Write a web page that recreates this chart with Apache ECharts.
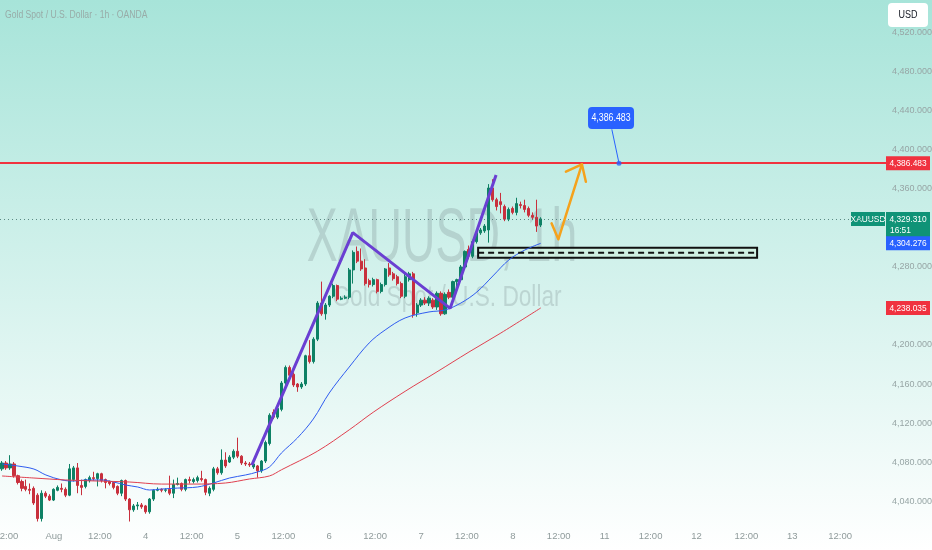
<!DOCTYPE html>
<html><head><meta charset="utf-8">
<script src="https://cdn.jsdelivr.net/npm/echarts@6/dist/echarts.min.js"></script>
<style>html,body{margin:0;padding:0;overflow:hidden}#c{width:932px;height:550px}</style>
</head><body><div id="c"></div>
<script>
// ---------- DATA ----------
const openP = [4073,4079,4074,4078,4066,4060,4055,4052,4053,4046,
4022,4048,4045,4041,4051,4053,4052,4046,4062,4074,
4056,4055,4061,4064,4063,4068,4062,4060,4059,4055,
4048,4061,4042,4031,4035,4036,4035,4029,4042,4051,
4052,4051,4052,4048,4057,4058,4052,4062,4060,4061,
4063,4062,4048,4052,4073,4069,4082,4080,4085,4091,
4086,4079,4078,4075,4076,4071,4081,4099,4131,4126,
4134,4161,4177,4170,4160,4157,4160,4189,4183,4206,
4243,4232,4241,4250,4261,4247,4248,4249,4277,4296,
4286,4279,4266,4262,4267,4255,4262,4279,4273,4270,
4263,4250,4267,4273,4233,4241,4246,4243,4246,4239,
4253,4232,4254,4249,4265,4267,4280,4298,4291,4306,
4315,4317,4318,4361,4349,4347,4342,4329,4340,4336,
4344,4343,4340,4333,4331,4323];
const closeP = [4079,4074,4078,4066,4059,4053,4052,4051,4038,4022,
4048,4045,4041,4052,4054,4052,4046,4073,4074,4056,
4054,4062,4064,4063,4068,4061,4059,4058,4054,4048,
4061,4042,4031,4035,4036,4034,4029,4042,4051,4052,
4051,4051.5,4048,4057,4058,4052,4062,4061,4062,4064,
4062,4049,4053,4073,4069,4082,4076,4085,4091,4086,
4079,4078,4077,4078,4071,4081,4100,4128,4126,4135,
4161,4177,4169,4159,4157,4160,4189,4183,4206,4243,
4232,4241,4250,4261,4247,4248,4249,4277,4295,4286,
4278,4263,4262,4267,4255,4262,4278,4272,4268,4263,
4250,4270,4273,4231,4241,4246,4243,4248,4239,4253,
4232,4252,4249,4265,4267,4280,4296,4291,4306,4315,
4318,4322,4361,4349,4342,4344,4329,4339,4336,4345,
4343,4339,4333,4331,4322,4329.31];
const lowP = [4071,4072,4072,4064,4057,4050,4050,4047,4036,4019,
4019,4043,4040,4040,4050,4049,4044,4045,4060,4048,
4046,4053,4059,4061,4055,4059,4053,4056,4052,4046,
4045,4040,4019,4029,4031,4032,4027,4027,4040,4050,
4049,4049,4046,4043,4056,4050,4050,4058,4058,4059,
4060,4046,4045,4050,4067,4067,4074,4079,4083,4084,
4077,4076,4075,4073,4064,4069,4079,4097,4124,4124,
4132,4159,4167,4157,4152,4155,4158,4181,4181,4204,
4230,4226,4239,4248,4245,4246,4247,4247,4263,4284,
4276,4261,4259,4260,4253,4253,4260,4270,4266,4261,
4248,4248,4265,4228,4229,4239,4241,4240,4237,4236,
4230,4231,4247,4247,4260,4265,4278,4288,4289,4304,
4313,4315,4305,4347,4338,4335,4327,4327,4334,4333,
4340,4336,4331,4329,4316,4321];
const highP = [4081,4081,4087,4080,4067,4062,4062,4058,4055,4048,
4051,4050,4047,4053,4056,4058,4054,4078,4076,4079,
4062,4063,4066,4070,4069,4069,4063,4061,4060,4056,
4062,4062,4043,4037,4039,4038,4036,4043,4052,4054,
4053,4053,4066,4062,4064,4059,4063,4065,4064,4066,
4071,4063,4055,4075,4075,4093,4090,4087,4093,4105,
4087,4081,4080,4080,4077,4082,4102,4130,4134,4137,
4163,4179,4179,4172,4161,4162,4190,4205,4208,4245,
4265,4243,4251,4263,4262,4250,4251,4279,4297,4301,
4299,4288,4268,4269,4268,4264,4279,4284,4275,4272,
4265,4273,4275,4275,4243,4248,4249,4250,4248,4255,
4255,4254,4257,4266,4268,4282,4297,4302,4308,4317,
4320,4324,4365,4370,4351,4356,4344,4341,4342,4351,
4347,4349,4342,4336,4349,4331];

// moving averages read at sample bars: [bar, price]
const maFast = [[0,4078.0],[4,4075.9],[8,4072.8],[11,4066.7],[15,4061.6],[18,4060.5],[21,4061.6],[25,4061.6],[28,4059.5],[31,4056.4],[34,4054.4],[37,4051.3],[40,4052.3],[44,4053.3],[49,4054.4],[53,4058.5],[57,4063.6],[61,4066.7],[64,4069.8],[67,4074.9],[70,4089.2],[74,4104.6],[78,4124.1],[82,4150.8],[87,4177.4],[92,4202.1],[96,4215.4],[101,4227.7],[107,4233.9],[111,4235.9],[115,4243.1],[119,4254.4],[123,4270.8],[127,4287.2],[131,4297.4],[135,4304.276]];
const maSlow = [[0,4065.7],[8,4063.6],[16,4061.6],[24,4060.5],[32,4059.5],[40,4057.4],[48,4057.4],[56,4058.5],[62,4062.6],[67,4065.7],[70,4072.0],[79,4091.0],[87,4113.0],[93,4131.0],[101,4152.5],[109,4172.5],[117,4192.8],[125,4212.3],[135,4238.035]];

// time axis ticks (bar position, text)
const timeTickIdx = [1.75,13,24.5,36,47.5,59,70.5,82,93.5,105,116.5,128,139.5,151,162.5,174,186.5,198,210];
const timeTickLabels = ['2:00','Aug','12:00','4','12:00','5','12:00','6','12:00','7','12:00','8','12:00','11','12:00','12','12:00','13','12:00'];
// price axis tick labels that are visible
const priceTicks = [4040,4080,4120,4160,4200,4280,4360,4400,4440,4480,4520];

// levels and drawings
const resistance = 4386.483;
const lastPrice = 4329.31;
const lastTime = '16:51';
const maFastLast = 4304.276;
const maSlowLast = 4238.035;
const patternPts = [[62.6,4076.9],[87.9,4315.2],[112.3,4237.6],[123.8,4374.4]];
const arrowPath = [[137.7,4324.8],[139.4,4308.4],[145.3,4385.3]];
const arrowHead = [[141.3,4377.7],[145.3,4385.3],[146.3,4367.5]];
const zoneX = [119.3,189.2];
const zoneY = [4289.5,4299.8];
const calloutDot = [154.6,4386.483];
const calloutLineEnd = [152.8,4421.2];
const calloutBox = [152.6,4432.8];

// ---------- CHART ----------
const FONT = '"Liberation Sans",Arial,sans-serif';
const nSlots = 222;
const cats = Array.from({length:nSlots},(_,i)=>String(i));
const candles = openP.map((o,i)=>[o,closeP[i],lowP[i],highP[i]]);
const UP='#0e8165', DOWN='#c8303d';
function fmt(v){return Number(v).toLocaleString('en-US',{minimumFractionDigits:3,maximumFractionDigits:3});}
const zoneMid=(zoneY[0]+zoneY[1])/2;

const chart = echarts.init(document.getElementById('c'),null,{renderer:'canvas'});
chart.setOption({
  animation:false,
  backgroundColor:{type:'linear',x:0,y:0,x2:0,y2:1,colorStops:[{offset:0,color:'#a7e4d9'},{offset:1,color:'#ffffff'}]},
  grid:{left:0,right:46,top:0,bottom:28,containLabel:false,outerBoundsMode:'none'},
  xAxis:[
    {type:'category',data:cats,boundaryGap:true,axisLine:{show:false},axisTick:{show:false},axisLabel:{show:false},splitLine:{show:false}},
    {type:'value',min:-0.5,max:nSlots-0.5,position:'bottom',axisLine:{show:false},axisTick:{show:false},splitLine:{show:false},
     axisLabel:{customValues:timeTickIdx,formatter:function(v){let k=-1,b=1e9;timeTickIdx.forEach((t,i)=>{if(Math.abs(t-v)<b){b=Math.abs(t-v);k=i;}});return b<0.01?timeTickLabels[k]:'';},
       color:'#8f9b9b',fontSize:9.5,fontFamily:FONT,margin:9}}
  ],
  yAxis:{type:'value',position:'right',min:4018.5,max:4553.8,scale:true,axisLine:{show:false},axisTick:{show:false},splitLine:{show:false},
    axisLabel:{customValues:priceTicks,formatter:fmt,color:'#97a5a5',fontSize:9,fontFamily:FONT,margin:6}},
  series:[
    {type:'candlestick',xAxisIndex:0,yAxisIndex:0,data:candles,barWidth:2.6,z:3,
     itemStyle:{color:UP,color0:DOWN,borderColor:UP,borderColor0:DOWN,borderWidth:1},
     markLine:{silent:true,symbol:['none','none'],animation:false,label:{show:false},
       data:[
         {yAxis:resistance,lineStyle:{color:'#f0323f',width:2,type:'solid'}},
         {yAxis:lastPrice,lineStyle:{color:'#3f6f69',width:1,type:[1,3],opacity:0.8}}
       ]}},
    {type:'line',xAxisIndex:1,yAxisIndex:0,data:maFast,showSymbol:false,smooth:0.35,lineStyle:{color:'#2f5cf0',width:1},z:4},
    {type:'line',xAxisIndex:1,yAxisIndex:0,data:maSlow,showSymbol:false,smooth:0.35,lineStyle:{color:'#e0404f',width:1},z:4},
    {type:'line',xAxisIndex:1,yAxisIndex:0,data:[[zoneX[0],zoneMid],[zoneX[1],zoneMid]],showSymbol:false,
     lineStyle:{color:'#111',width:2,type:[6,4]},z:6,
     markArea:{silent:true,itemStyle:{color:'rgba(208,240,224,0.8)',borderColor:'#111',borderWidth:2},
       data:[[{coord:[zoneX[0],zoneY[1]]},{coord:[zoneX[1],zoneY[0]]}]]}},
    {type:'line',xAxisIndex:1,yAxisIndex:0,data:patternPts,showSymbol:false,lineStyle:{color:'#6a3fd2',width:3},z:7},
    {type:'line',xAxisIndex:1,yAxisIndex:0,data:arrowPath,showSymbol:false,lineStyle:{color:'#f5a21c',width:2.5,cap:'round',join:'round'},z:7},
    {type:'line',xAxisIndex:1,yAxisIndex:0,data:arrowHead,showSymbol:false,lineStyle:{color:'#f5a21c',width:2.5,cap:'round',join:'round'},z:7},
    {type:'line',xAxisIndex:1,yAxisIndex:0,data:[calloutDot,calloutLineEnd],showSymbol:false,lineStyle:{color:'#2962ff',width:1},z:7},
    {type:'scatter',xAxisIndex:1,yAxisIndex:0,data:[calloutDot],symbolSize:5,itemStyle:{color:'#2962ff'},z:8}
  ]
});

// annotations anchored through the chart's own scales
function px(x,y){return chart.convertToPixel({xAxisIndex:1,yAxisIndex:0},[x,y]);}
const axisX = px(nSlots-0.5,lastPrice)[0];
function tagText(x,y,text,align){
  return {type:'text',x:x,y:y,scaleX:0.88,style:{text:text,fill:'#fff',font:'9.5px '+FONT,align:align||'center',verticalAlign:'middle'}};
}
function tag(price,text,color){
  const y=px(0,price)[1];
  return {type:'group',z:50,children:[
    {type:'rect',shape:{x:axisX,y:y-7,width:44,height:14},style:{fill:color}},
    tagText(axisX+22,y,text)
  ]};
}
const yLast=px(0,lastPrice)[1];
const box=px(calloutBox[0],calloutBox[1]);
chart.setOption({graphic:[
  {type:'text',x:442,y:240,scaleX:0.61,z:-10,silent:true,style:{text:'XAUUSD, 1h',font:'76px '+FONT,fill:'rgba(95,110,112,0.22)',align:'center',verticalAlign:'middle'}},
  {type:'text',x:447,y:298,scaleX:0.755,z:-10,silent:true,style:{text:'Gold Spot / U.S. Dollar',font:'30px '+FONT,fill:'rgba(95,110,112,0.22)',align:'center',verticalAlign:'middle'}},
  {type:'text',x:5,y:15,z:50,scaleX:0.86,style:{text:'Gold Spot / U.S. Dollar \u00b7 1h \u00b7 OANDA',font:'10px '+FONT,fill:'#98aca8',align:'left',verticalAlign:'middle'}},
  {type:'group',z:60,children:[
    {type:'rect',shape:{x:888,y:3,width:40,height:24,r:4},style:{fill:'#ffffff'}},
    {type:'text',x:908,y:15,scaleX:0.9,style:{text:'USD',font:'10px '+FONT,fill:'#131722',align:'center',verticalAlign:'middle'}}
  ]},
  tag(resistance,fmt(resistance),'#f0323f'),
  {type:'group',z:50,children:[
    {type:'rect',shape:{x:axisX,y:yLast-7,width:44,height:25},style:{fill:'#0f9377'}},
    tagText(axisX+22,yLast,fmt(lastPrice)),
    tagText(axisX+4,yLast+11,lastTime,'left'),
    {type:'rect',shape:{x:axisX-35,y:yLast-7,width:34,height:14},style:{fill:'#0f9377'}},
    tagText(axisX-18,yLast,'XAUUSD')
  ]},
  tag(maFastLast,fmt(maFastLast),'#2962ff'),
  tag(maSlowLast,fmt(maSlowLast),'#f0323f'),
  {type:'group',z:50,children:[
    {type:'rect',shape:{x:box[0]-23,y:box[1]-11,width:46,height:22,r:4},style:{fill:'#2962ff'}},
    {type:'text',x:box[0],y:box[1],scaleX:0.88,style:{text:fmt(resistance),fill:'#fff',font:'10px '+FONT,align:'center',verticalAlign:'middle'}}
  ]}
]});
</script>
</body></html>
